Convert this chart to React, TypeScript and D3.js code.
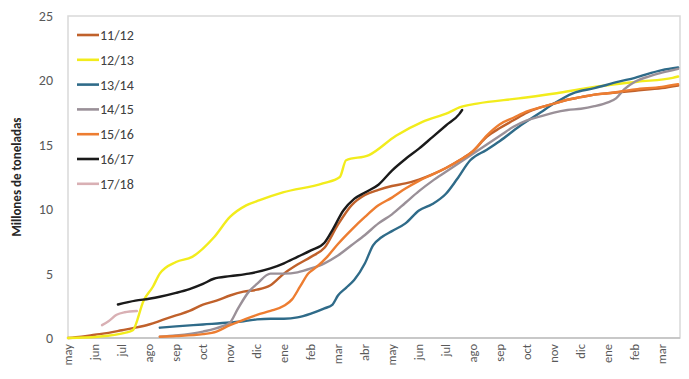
import React from "react";
import * as d3 from "d3";

// x = months since start of "may" (fractional), y = millions of tonnes
const monthLabels = ["may","jun","jul","ago","sep","oct","nov","dic","ene","feb","mar","abr","may","jun","jul","ago","sep","oct","nov","dic","ene","feb","mar"];
const yTicks = [0, 5, 10, 15, 20, 25];

const s1112: [number, number][] = [[0,0],[0.5,0.1],[1,0.25],[1.5,0.4],[2,0.6],[2.5,0.8],[3,1.05],[3.5,1.4],[4,1.75],[4.5,2.1],[5,2.6],[5.5,2.9],[6,3.3],[6.5,3.6],[7,3.75],[7.5,4.1],[8,5.0],[8.5,5.7],[9,6.3],[9.5,7.0],[10,8.8],[10.5,10.3],[11,11.1],[11.5,11.5],[12,11.8],[12.5,12.0],[13,12.3],[13.5,12.7],[14,13.2],[14.5,13.8],[15,14.5],[15.5,15.6],[16,16.3],[16.5,16.9],[17,17.5],[17.5,17.9],[18,18.2],[18.5,18.5],[19,18.7],[19.5,18.9],[20,19.0],[21,19.2],[22,19.4],[22.6,19.6]];
const s1213: [number, number][] = [[0,0],[1.1,0.1],[2.1,0.4],[2.4,0.6],[2.8,2.9],[3.15,4.0],[3.4,5.0],[4.0,5.9],[4.6,6.3],[5.4,7.8],[6.0,9.4],[6.6,10.3],[7.1,10.7],[7.96,11.3],[9.44,12.0],[10.07,12.5],[10.3,13.8],[11.15,14.2],[12.15,15.7],[13.15,16.8],[14.1,17.5],[14.5,17.9],[15.15,18.2],[16.7,18.6],[18.1,19.0],[19.2,19.4],[21.1,19.9],[22.4,20.2],[22.6,20.3]];
const s1314: [number, number][] = [[3.4,0.8],[4,0.9],[5,1.05],[6,1.2],[6.5,1.3],[7,1.45],[7.5,1.5],[8,1.5],[8.5,1.6],[9,1.9],[9.5,2.3],[9.8,2.6],[10,3.3],[10.3,3.9],[10.6,4.5],[11,5.8],[11.3,7.2],[11.6,7.8],[12,8.3],[12.5,8.9],[13,9.9],[13.5,10.4],[14,11.2],[14.4,12.3],[14.9,13.8],[15.5,14.6],[16,15.3],[16.7,16.4],[17.5,17.5],[18,18.2],[18.7,19.0],[19.5,19.4],[20.4,19.9],[21,20.2],[22,20.8],[22.6,21.0]];
const s1415: [number, number][] = [[3.4,0.1],[4,0.2],[5,0.5],[5.7,0.9],[6.0,1.2],[6.3,2.3],[6.7,3.6],[7.0,4.2],[7.5,5.0],[8,5.0],[8.5,5.1],[9,5.4],[9.5,5.8],[10,6.4],[10.5,7.2],[11,8.0],[11.5,8.9],[12,9.6],[12.5,10.5],[13,11.4],[13.5,12.2],[14,12.9],[14.5,13.6],[15,14.3],[15.5,15.0],[16,15.7],[16.5,16.4],[17,16.9],[17.5,17.2],[18,17.5],[18.5,17.7],[19,17.8],[19.5,18.0],[20,18.3],[20.3,18.6],[20.6,19.3],[21,19.9],[21.5,20.3],[22,20.6],[22.6,20.9]];
const s1516: [number, number][] = [[3.4,0.1],[4,0.15],[5,0.3],[5.5,0.5],[6,1.0],[6.5,1.4],[7,1.8],[7.5,2.1],[8,2.5],[8.3,3.0],[8.6,4.0],[8.9,5.0],[9.2,5.5],[9.6,6.3],[10,7.3],[10.5,8.4],[11,9.4],[11.5,10.3],[12,10.9],[12.5,11.6],[13,12.2],[13.5,12.7],[14,13.2],[14.5,13.8],[15,14.5],[15.5,15.7],[16,16.6],[16.5,17.1],[17,17.6],[17.5,17.9],[18,18.2],[18.5,18.5],[19,18.7],[19.5,18.9],[20,19.0],[21,19.3],[22,19.5],[22.6,19.7]];
const s1617: [number, number][] = [[1.85,2.6],[2.5,2.9],[3,3.05],[3.4,3.2],[4,3.5],[4.5,3.8],[5,4.2],[5.4,4.6],[6,4.8],[6.7,5.0],[7.5,5.4],[8,5.8],[8.5,6.3],[9,6.8],[9.5,7.4],[9.8,8.4],[10.2,9.9],[10.6,10.8],[11,11.3],[11.5,11.9],[12,13.0],[12.5,13.9],[13,14.7],[13.5,15.6],[14,16.5],[14.5,17.4],[14.6,17.7]];
const s1718: [number, number][] = [[1.26,1.0],[1.5,1.3],[1.8,1.8],[2.1,2.0],[2.55,2.1]];

const seriesNames = ["11/12","12/13","13/14","14/15","15/16","16/17","17/18"];
const seriesData = [s1112, s1213, s1314, s1415, s1516, s1617, s1718];
const seriesColors = ["#C0612B","#F2EC1C","#2F6B89","#9A9098","#ED7D31","#1A1A1A","#D9B0B4"];

export default function App() {
  const W = 689, H = 379;
  const left = 68, right = 680, top = 16, bottom = 338;
  const x = d3.scaleLinear().domain([0, 22.67]).range([left, right]);
  const y = d3.scaleLinear().domain([0, 25]).range([bottom, top]);
  const line = d3.line<[number, number]>().x(d => x(d[0])).y(d => y(d[1])).curve(d3.curveMonotoneX);
  const font = "Calibri, Carlito, 'Open Sans', 'Liberation Sans', Arial, sans-serif";
  const legendY0 = 35, legendStep = 24.8;

  return (
    <svg width={W} height={H} style={{ position: "absolute", left: 0, top: 0, background: "#fff" }} fontFamily={font}>
      <rect x={left} y={top} width={right - left} height={bottom - top} fill="none" stroke="#D9D9D9" strokeWidth={1.5} />
      <line x1={left} x2={right} y1={bottom} y2={bottom} stroke="#BFBFBF" strokeWidth={1.5} />
      {yTicks.map(t => (
        <text key={t} x={53} y={y(t)} dy="0.35em" textAnchor="end" fontSize={14} fill="#595959">{t}</text>
      ))}
      {monthLabels.map((m, i) => (
        <text key={i} transform={`translate(${x(i) + 4},${bottom + 6}) rotate(-90)`} textAnchor="end" fontSize={12.5} fill="#595959">{m}</text>
      ))}
      <text transform={`translate(21,${(top + bottom) / 2}) rotate(-90)`} textAnchor="middle" fontSize={13} fontWeight="bold" fill="#262626">Millones de toneladas</text>
      {seriesData.map((d, i) => (
        <path key={i} d={line(d) || ""} fill="none" stroke={seriesColors[i]} strokeWidth={2.4} strokeLinejoin="round" strokeLinecap="round" />
      ))}
      {seriesNames.map((n, i) => (
        <g key={n} transform={`translate(0,${legendY0 + i * legendStep})`}>
          <line x1={77} x2={99} y1={0} y2={0} stroke={seriesColors[i]} strokeWidth={2.6} />
          <text x={100} y={0} dy="0.35em" fontSize={14} fill="#404040">{n}</text>
        </g>
      ))}
    </svg>
  );
}
